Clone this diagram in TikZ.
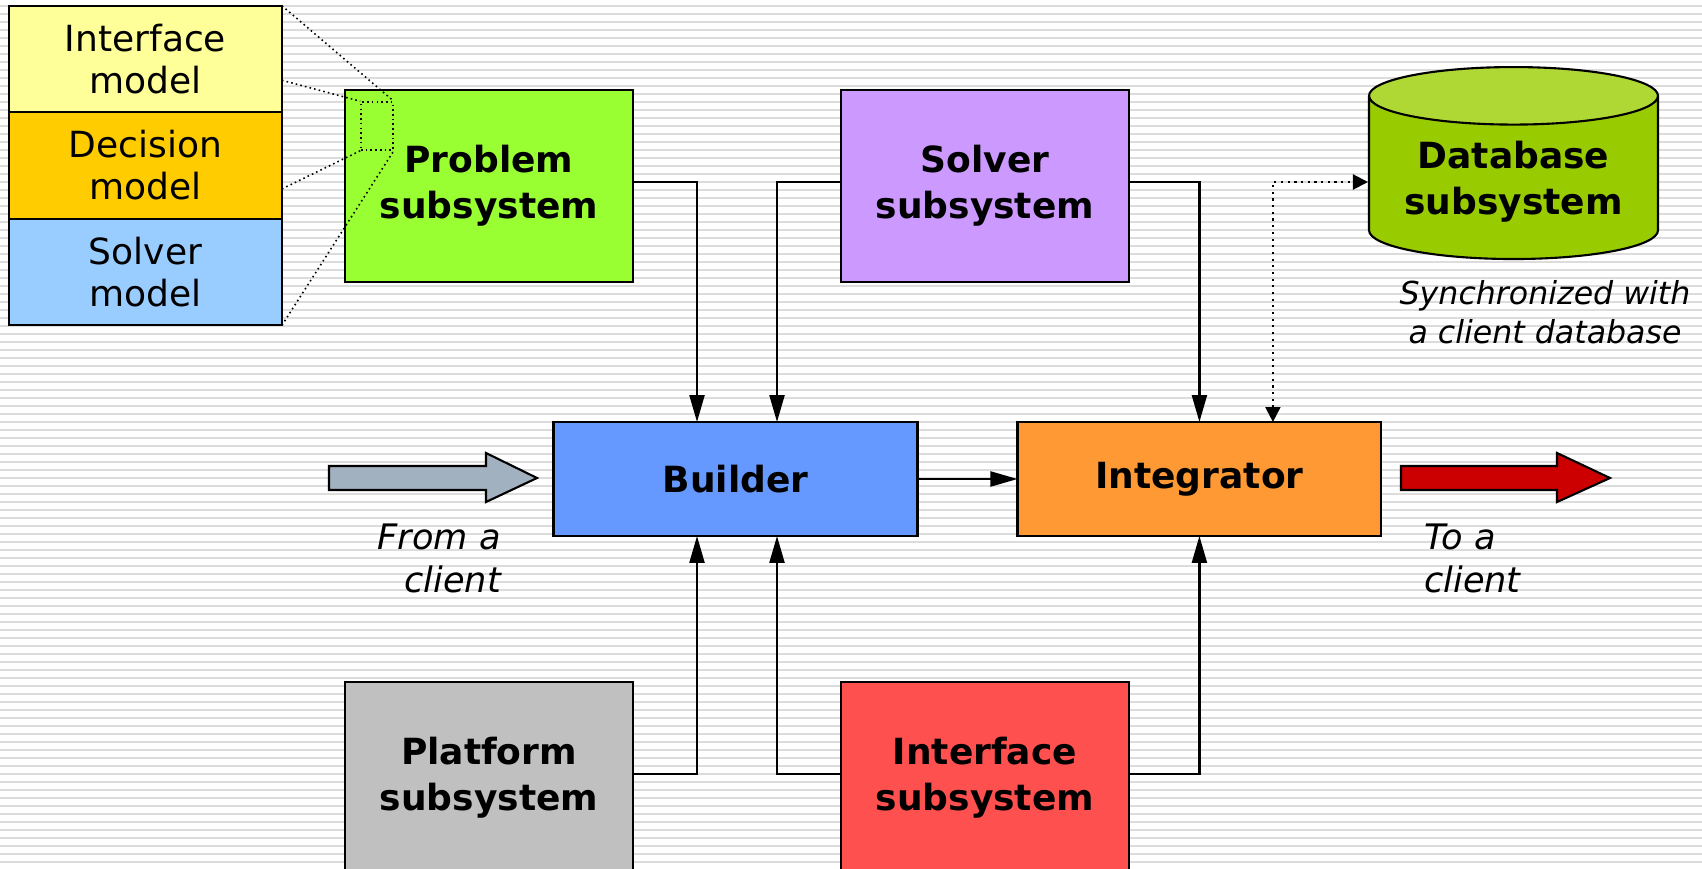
\documentclass[tikz,border=0pt]{standalone}
\usepackage{fontspec}
\setmainfont{DejaVu Sans}
\usetikzlibrary{shapes.geometric, arrows.meta, positioning, calc}
\definecolor{ifaceyellow}{HTML}{FFFF99}
\definecolor{decisionorange}{HTML}{FFCC00}
\definecolor{solverblue}{HTML}{99CCFF}
\definecolor{problemgreen}{HTML}{99FF33}
\definecolor{solverviolet}{HTML}{CC99FF}
\definecolor{dbgreen}{HTML}{99CC00}
\definecolor{dbtop}{HTML}{B0D835}
\definecolor{builderblue}{HTML}{6699FF}
\definecolor{integratororange}{HTML}{FF9933}
\definecolor{platformgray}{HTML}{C0C0C0}
\definecolor{interfacered}{HTML}{FF5050}
\definecolor{inarrowgray}{HTML}{A2B1C0}
\definecolor{outarrowred}{HTML}{CC0000}
\definecolor{stripe}{HTML}{DCDCDC}

\begin{document}
\begin{tikzpicture}[x=0.02cm, y=-0.02cm,
  model/.style={rectangle, draw, line width=1.2pt, outer sep=0pt, minimum width=5.46cm, minimum height=2.13cm, align=center, font=\fontsize{20.5}{24}\selectfont},
  subsys/.style={rectangle, draw, line width=1.2pt, outer sep=0pt, minimum width=5.76cm, minimum height=3.84cm, align=center, font=\fontsize{20.5}{26}\selectfont\bfseries},
  core/.style={subsys, minimum width=7.28cm, minimum height=2.28cm},
  database/.style={cylinder, shape border rotate=90, aspect=0.25, draw, line width=1.2pt, cylinder uses custom fill, cylinder body fill=dbgreen, cylinder end fill=dbtop, minimum width=5.78cm, minimum height=3.84cm, align=center, font=\fontsize{20.5}{26}\selectfont\bfseries},
  zoomline/.style={line width=0.9pt, dash pattern=on 0.9pt off 1.8pt},
  conn/.style={-{Triangle[length=0.54cm, width=0.3cm]}, line width=1.3pt},
  dotconn/.style={{Triangle[length=0.3cm, width=0.3cm]}-{Triangle[length=0.3cm, width=0.3cm]}, line width=1.2pt, dash pattern=on 1.2pt off 2.6pt},
  blockarrow/.style={draw, line width=1.2pt, line join=miter},
  note/.style={font=\fontsize{20}{24.5}\selectfont\itshape}
]
\useasboundingbox[fill=white] (0,0) rectangle (1702,868);
\foreach \y in {6,14,...,862}
  \draw[stripe, line width=0.04cm] (0,\y) -- (1702,\y);

\node[model, fill=ifaceyellow] (iface) at (145.5,59) {Interface\\model};
\node[model, fill=decisionorange, below=0pt of iface] (decision) {Decision\\model};
\node[model, fill=solverblue, below=0pt of decision] (solvermodel) {Solver\\model};

\node[subsys, fill=problemgreen] (problem) at (489,186) {Problem\\subsystem};
\node[subsys, fill=solverviolet, right=4.16cm of problem] (solver) {Solver\\subsystem};
\node[core, fill=builderblue] (builder) at (735.5,479) {Builder};
\node[core, fill=integratororange, right=2cm of builder] (integrator) {Integrator};
\node[subsys, fill=platformgray] (platform) at (489,778) {Platform\\subsystem};
\node[subsys, fill=interfacered, right=4.16cm of platform] (interface) {Interface\\subsystem};
\node[database] (db) at (1513.5,182) {Database\\subsystem};

\node[draw, zoomline, minimum width=0.64cm, minimum height=0.96cm] (zoombox) at (377,126) {};
\draw[zoomline] (iface.north east) -- (zoombox.north east);
\draw[zoomline] ($(iface.north east)!0.7!(iface.south east)$) -- (zoombox.north west);
\draw[zoomline] ($(decision.north east)!0.72!(decision.south east)$) -- (zoombox.south west);
\draw[zoomline] (solvermodel.south east) -- (zoombox.south east);

\draw[conn] ($(problem.east)+(0,-4)$) -| ($(builder.north)+(-38.5,0)$);
\draw[conn] ($(solver.west)+(0,-4)$) -| ($(builder.north)+(41.5,0)$);
\draw[conn] ($(solver.east)+(0,-4)$) -| (integrator.north);
\draw[conn] (builder.east) -- (integrator.west);
\draw[conn] ($(platform.east)+(0,-4)$) -| ($(builder.south)+(-38.5,0)$);
\draw[conn] ($(interface.west)+(0,-4)$) -| ($(builder.south)+(41.5,0)$);
\draw[conn] ($(interface.east)+(0,-4)$) -| (integrator.south);
\draw[dotconn] ($(integrator.north)+(73.5,0)$) |- (db.west);

\draw[blockarrow, fill=inarrowgray] (329,466) -- (486,466) -- (486,453) -- (537,478) -- (486,502) -- (486,490) -- (329,490) -- cycle;
\draw[blockarrow, fill=outarrowred] (1401,466) -- (1557,466) -- (1557,453) -- (1610,478) -- (1557,502) -- (1557,490) -- (1401,490) -- cycle;

\node[note, align=right, anchor=east] (fromclient) at (507,558) {From a\\client};
\node[note, align=left, anchor=west] (toclient) at (1418,558) {To a\\client};
\node[note, align=center, font=\fontsize{18}{22}\selectfont\itshape] (sync) at (1545,312) {Synchronized with\\a client database};
\end{tikzpicture}
\end{document}
